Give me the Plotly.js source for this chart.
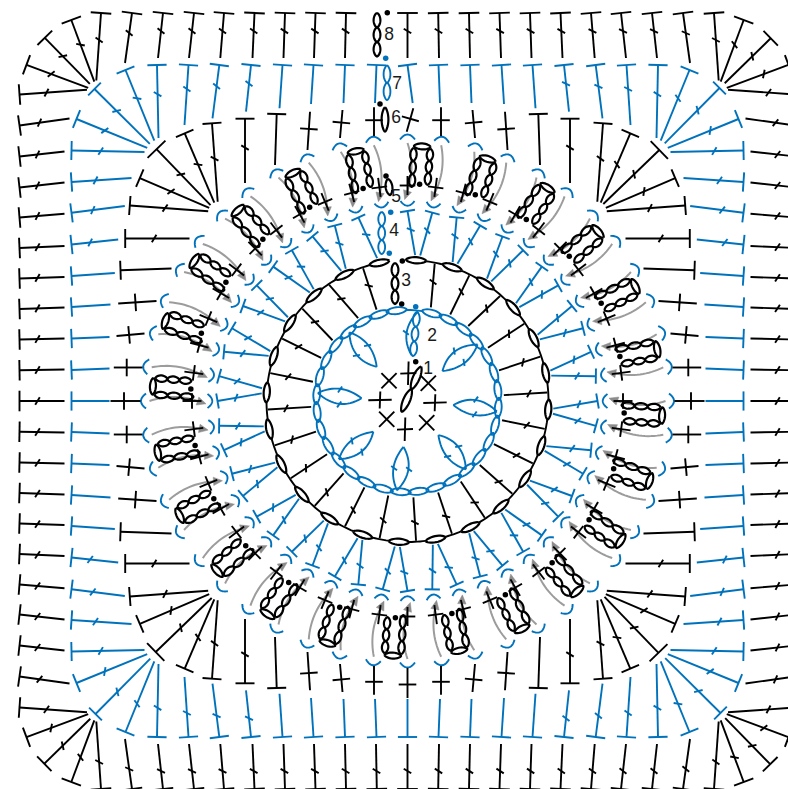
<!DOCTYPE html>
<html><head><meta charset="utf-8">
<script src="https://cdn.plot.ly/plotly-3.0.1.min.js"></script>
<style>html,body{margin:0;padding:0;background:#fff}</style></head>
<body><div id="chart" style="width:788px;height:789px"></div>
<script>
// ---------- values (offsets from the centre of the motif) ----------
const centreX = 407.5, centreY = 401;
// rounds 6, 7, 8 : one eighth of the square, repeated around by symmetry
const row8TopX  = [0,30.7,61.5,92,122.5,153,183.5,213.5,244.5,275.5,306.5,336.2,363.2];
const row8TopY  = [-388,-388,-388,-388,-388,-388,-388,-388,-388,-388,-388,-381,-362.7];
const row8BaseX = [0,31.5,62.5,93.5,124,155,187.2,218.5,249.5,282.5,311.2,313.2,317.2];
const row8BaseY = [-343,-343,-343,-343,-343,-343,-343,-343,-343,-338,-320.5,-319.3,-317.7];
const row7TopX  = [0,31,62.5,94,125,156.5,188.2,219,250.5,282,312];
const row7TopY  = [-336,-336,-336,-336,-336,-336,-336,-336,-336,-331,-313];
const row7BaseX = [0,32.5,64,96.5,128,161.5,195,223,249,253.2,257.2];
const row7BaseY = [-298,-298,-298,-297,-292.7,-289.3,-282.7,-276,-263,-260.3,-257.7];
const row7Ticked= [0,0,0,0,0,1,1,1,1,1,1];
const row6TopX  = [0,33.5,65,97.5,130.8,162.5,195.5,222.8,251.8];
const row6TopY  = [-297,-293.7,-291,-289.3,-287,-282.3,-277.7,-267.7,-251];
const row6BaseX = [0,33.5,67.5,100,132.5,162.5,189.8,193.2,195.8];
const row6BaseY = [-267,-265,-263,-251,-236,-218,-199.3,-198.3,-197];
const row6Kind  = ['plus','plus','plus','plus','bar','tick','tick','tick','tick'];
// round 5 and the arcs, angles clockwise from the top
const arcAngle = [0,7.5,15,22.5,30,37.5,45,52.5,60,67.5,75,82.5,90,97.5,105,112.5,120,127.5,135,142.5,150,157.5,165,172.5,180,187.5,195,202.5,210,217.5,225,232.5,240,247.5,255,262.5,270,277.5,285,292.5,300,307.5,315,322.5,330,337.5,345,352.5];
const loopAngle = [3.2,18.2,33.2,48.2,63.2,78.2,93.2,108.2,123.2,138.2,153.2,168.2,183.2,198.2,213.2,228.2,243.2,258.2,273.2,288.2,303.2,318.2,333.2,348.2];
// round 4
const row4BaseAngle = [3,5,18,20,33,35,48,50,63,65,78,80,93,95,108,110,123,125,138,140,153,155,168,170,183,185,198,200,213,215,228,230,243,245,258,260,273,275,288,290,303,305,318,320,333,335,348];
// round 3
const row3TopAngle  = [11.2,26.2,41.4,56.5,71.5,86.5,101.5,116.5,131.5,146.5,161.5,176.5,191.5,206.5,221.5,236.5,251.5,266.5,281.5,296.5,311.3,326,341.5];
const row3BaseAngle = [14,26.3,39,56.5,71.5,86.5,101.5,116.5,131.5,146.5,161.5,176.5,191.5,206.5,221.5,236.5,251.5,266.5,281.5,296.5,309,329.2,341.3];
const ring3Chains   = [3.5,18.5,33.5,48.5,63.5,78.5,93.5,108.5,123.5,138.5,153.5,168.5,183.5,198.5,213.5,228.5,243.5,258.5,273.5,288.5,303.5,318.5,333.5,348.5];
// round 2
const ring2Chains = [15.6,26.85,38.1,49.35,60.6,71.85,83.1,94.35,105.6,116.85,128.1,139.35,150.6,161.85,173.1,184.35,195.6,206.85,218.1,229.35,240.6,251.85,263.1,274.35,285.6,296.85,308.1,319.35,330.6,341.85,353.1];
const ring2JoinAngle = [-1,2,5,8,10];
const petalAngle = [5,49.4,95,137.8,185,228,273.4,318];
// round 1
const row1PlusX  = [-27.5,27.5,-2.5,0.8];
const row1PlusY  = [-1,1.7,28.3,-27.7];
const row1PlusLongX = [11.7,11.7,8,8];
const row1PlusLongY = [8.5,8.5,11.7,11.7];
const row1CrossX = [-18.5,20.8,19.2,-20.8];
const row1CrossY = [-20.3,-17.7,21.7,18.3];
// starting chains of each round (page position)
const chainStartX = [401.7,413,395,381.7,390,385,387,377];
const chainStartY = [411.7,356,304,254,195,131.5,100,56.5];
const chainEndX   = [421,417,395,381.7,388,385,387,377];
const chainEndY   = [366.7,312,263,212,179,107.5,65.5,13];
const chainCount  = [2,3,3,3,1,1,2,3];
const chainBlue   = [0,1,0,1,0,0,1,0];
const blackDotX = [415.7,401.7,402.3,386,380,387.3];
const blackDotY = [361.7,304,261,176,104,12.7];
const blueDotX  = [415.7,389.3,390.7,385.7];
const blueDotY  = [306.7,253.3,212.3,58.3];
const labelText = ['1','2','3','4','5','6','7','8'];
const labelX = [428,432,406,394,396,396,397,389];
const labelY = [370,337,282,232,198,119,85,35.7];

// ---------- geometry helpers ----------
const BLACK='#000000', BLUE='#0072BC', GREY='#9C9C9C';
const blackX=[],blackY=[],blueX=[],blueY=[],greyX=[],greyY=[],headX=[],headY=[];
const boldX=[],boldY=[];
const rad=d=>d*Math.PI/180;
function polar(a,r,t){t=t||0;const s=Math.sin(rad(a)),c=Math.cos(rad(a));
  return [centreX+r*s+t*c, centreY-r*c+t*s];}
function line(bx,by,p,q){bx.push(p[0],q[0],null);by.push(p[1],q[1],null);}
function unit(p,q){const d=Math.hypot(q[0]-p[0],q[1]-p[1])||1;return [(q[0]-p[0])/d,(q[1]-p[1])/d];}
function mix(p,q,f){return [p[0]+(q[0]-p[0])*f,p[1]+(q[1]-p[1])*f];}
function tickAt(bx,by,c,u,h){const v=[-u[1]*.85-u[0]*.52,u[0]*.85-u[1]*.52];
  line(bx,by,[c[0]-v[0]*h,c[1]-v[1]*h],[c[0]+v[0]*h,c[1]+v[1]*h]);}
function crossBar(bx,by,c,u,h){line(bx,by,[c[0]+u[1]*h,c[1]-u[0]*h],[c[0]-u[1]*h,c[1]+u[0]*h]);}
function stitch(bx,by,b,t,barH,tickF,tickH){line(bx,by,b,t);const u=unit(b,t);
  if(barH)crossBar(bx,by,t,u,barH);
  if(tickF)tickAt(bx,by,mix(b,t,tickF),u,tickH||4.4);}
function plusSt(bx,by,b,t,f,h){line(bx,by,b,t);crossBar(bx,by,mix(b,t,f),unit(b,t),h);}
function oval(bx,by,p,q,w){const c=mix(p,q,.5),u=unit(p,q),L=Math.hypot(q[0]-p[0],q[1]-p[1])/2;
  for(let i=0;i<=32;i++){const a=i/32*2*Math.PI,A=Math.cos(a)*L,sn=Math.sin(a),B=sn*w*(.6+.4*Math.abs(sn));
    bx.push(c[0]+u[0]*A-u[1]*B);by.push(c[1]+u[1]*A+u[0]*B);}bx.push(null);by.push(null);}
function chain(bx,by,p,q,n,w){for(let i=0;i<n;i++)oval(bx,by,mix(p,q,i/n),mix(p,q,(i+1)/n),w);}
function quad(bx,by,p,c,q){for(let i=0;i<=16;i++){const f=i/16,g=1-f;
  bx.push(g*g*p[0]+2*g*f*c[0]+f*f*q[0]);by.push(g*g*p[1]+2*g*f*c[1]+f*f*q[1]);}bx.push(null);by.push(null);}
// the eight placements of one eighth of the square
function place(dx,dy,k,m){let x=m*dx,y=dy;for(let i=0;i<k;i++){const n=-y;y=x;x=n;}return [centreX+x,centreY+y];}
function around(n,fn){for(let k=0;k<4;k++)for(const m of [1,-1])for(let i=0;i<n;i++){
  if(m===-1&&i===0)continue;if(m===-1&&i===n-1)continue;fn(i,k,m);}}

// ---------- round 8 ----------
around(row8TopX.length,(i,k,m)=>{
  if(k===0&&m===-1&&i===1)return;
  stitch(blackX,blackY,place(row8BaseX[i],row8BaseY[i],k,m),place(row8TopX[i],row8TopY[i],k,m),10.3,.6);
});
// ---------- round 7 ----------
around(row7TopX.length,(i,k,m)=>{
  let b=place(row7BaseX[i],row7BaseY[i],k,m),t=place(row7TopX[i],row7TopY[i],k,m);
  if(k===0&&i===0)b=[b[0]+5.2,b[1]];
  stitch(blueX,blueY,b,t,i===row7TopX.length-1?9:9.6,row7Ticked[i]?.6:0);
});
// ---------- round 6 ----------
around(row6TopX.length,(i,k,m)=>{
  let b=place(row6BaseX[i],row6BaseY[i],k,m),t=place(row6TopX[i],row6TopY[i],k,m);
  if(k===0&&i===0){b=[b[0]-.8,b[1]-2.3];t=[t[0]+5.8,t[1]+4.3];}
  const kind=row6Kind[i];
  if(kind==='plus')plusSt(blackX,blackY,b,t,.55,8.8);
  else stitch(blackX,blackY,b,t,i===row6TopX.length-1?12.4:9.5,kind==='tick'?.55:0);
});
// ---------- arcs, crosses and arrows at the 48 angles ----------
arcAngle.forEach(a=>{
  quad(blueX,blueY,polar(a,261.5,-7.5),polar(a,271.5,0),polar(a,261.5,7.5));
  quad(blueX,blueY,polar(a,200,-7),polar(a,190.5,0),polar(a,200,7));
  plusSt(blackX,blackY,polar(a,206),polar(a,225),.5,7.8);
  const s=polar(a,258),e=polar(a,210),c=polar(a,234,8);
  quad(greyX,greyY,s,c,e);
  const u=unit(c,e),tip=[e[0]+u[0]*9,e[1]+u[1]*9];
  headX.push(tip[0],e[0]-u[1]*4.2,e[0]+u[1]*4.2,tip[0],null);
  headY.push(tip[1],e[1]+u[0]*4.2,e[1]-u[0]*4.2,tip[1],null);
});
// ---------- round 5 loops ----------
const loopDotX=[],loopDotY=[];
loopAngle.forEach(a=>{
  chain(boldX,boldY,polar(a,214,-7.8),polar(a,253,-7.8),3,3.2);
  chain(boldX,boldY,polar(a,217,7.8),polar(a,253,8.8),3,3.2);
  oval(boldX,boldY,polar(a,255,-7.8),polar(a,255,8.8),3);
  const d=polar(a,217);loopDotX.push(d[0]);loopDotY.push(d[1]);
});
// ---------- round 4 ----------
row4BaseAngle.forEach((b,i)=>{
  stitch(blueX,blueY,polar(b,146),polar(arcAngle[i],190),7.6,.58,4.2);
});
// ---------- round 3 ----------
row3TopAngle.forEach((a,i)=>{
  stitch(blackX,blackY,polar(row3BaseAngle[i],96.5),polar(a,140),0,.58,4.2);
});
ring3Chains.forEach((a,i)=>{
  oval(boldX,boldY,polar(a,141,-10),polar(a,141,10),3.1);
  if(i<ring3Chains.length-1){
    const n=ring3Chains[i+1],st=a+4.1,en=n-4.1;
    for(let j=0;j<=6;j++){const p=polar(st+(en-st)*j/6,141);blackX.push(p[0]);blackY.push(p[1]);}
    blackX.push(null);blackY.push(null);
  }
});
// ---------- round 2 ----------
ring2Chains.forEach(a=>oval(blueX,blueY,polar(a,91,-10.2),polar(a,91,10.2),3.4));
ring2JoinAngle.forEach(a=>{const p=polar(a,91);blueX.push(p[0]);blueY.push(p[1]);});
blueX.push(null);blueY.push(null);
petalAngle.forEach((a,i)=>{
  const p=polar(a,46),q=polar(a+1.7,90);
  [-1,1].forEach(sd=>{
    if(i===0&&sd===1)return;
    quad(blueX,blueY,p,polar(a,68,sd*15),q);
    const mid=polar(a,68,sd*7.5);
    tickAt(blueX,blueY,mid,unit(polar(a,46),polar(a,90)),3.6);
  });
});
// ---------- round 1 ----------
row1PlusX.forEach((x,i)=>{
  const c=[centreX+x,centreY+row1PlusY[i]],lx=row1PlusLongX[i],ly=row1PlusLongY[i];
  line(blackX,blackY,[c[0]-lx,c[1]+.3],[c[0]+lx,c[1]-.3]);
  line(blackX,blackY,[c[0]+.3,c[1]-ly],[c[0]-.3,c[1]+ly]);
});
row1CrossX.forEach((x,i)=>{
  const c=[centreX+x,centreY+row1CrossY[i]];
  line(blackX,blackY,[c[0]-7.6,c[1]-7.6],[c[0]+7.6,c[1]+7.6]);
  line(blackX,blackY,[c[0]-7.6,c[1]+7.6],[c[0]+7.6,c[1]-7.6]);
});
// ---------- starting chains ----------
chainStartX.forEach((x,i)=>{
  const bx=chainBlue[i]?blueX:boldX, by=chainBlue[i]?blueY:boldY;
  chain(bx,by,[x,chainStartY[i]],[chainEndX[i],chainEndY[i]],chainCount[i],3.4);
});

const lines=(x,y,c,w)=>({type:'scatter',mode:'lines',x,y,hoverinfo:'skip',connectgaps:false,
  line:{color:c,width:w,simplify:false}});
const traces=[
  lines(greyX,greyY,GREY,2),
  {type:'scatter',mode:'lines',x:headX,y:headY,fill:'toself',fillcolor:'#8C8C8C',hoverinfo:'skip',line:{color:'#8C8C8C',width:.5}},
  lines(blueX,blueY,BLUE,1.9),
  lines(blackX,blackY,BLACK,1.9),
  lines(boldX,boldY,BLACK,2.2),
  {type:'scatter',mode:'markers',x:loopDotX.concat(blackDotX),y:loopDotY.concat(blackDotY),hoverinfo:'skip',marker:{color:BLACK,size:5.5}},
  {type:'scatter',mode:'markers',x:blueDotX,y:blueDotY,hoverinfo:'skip',marker:{color:BLUE,size:5.5}},
  {type:'scatter',mode:'text',x:labelX,y:labelY,text:labelText,hoverinfo:'skip',
   textposition:'middle center',textfont:{family:'Liberation Sans, Arial, sans-serif',size:17.5,color:'#1a1a1a'}}
];
const hidden={visible:false,showgrid:false,zeroline:false,fixedrange:true};
Plotly.newPlot('chart',traces,{
  width:788,height:789,margin:{l:0,r:0,t:0,b:0},showlegend:false,
  paper_bgcolor:'#fff',plot_bgcolor:'#fff',
  xaxis:Object.assign({range:[0,788]},hidden),
  yaxis:Object.assign({range:[789,0]},hidden)
},{displayModeBar:false,staticPlot:true});
</script></body></html>
